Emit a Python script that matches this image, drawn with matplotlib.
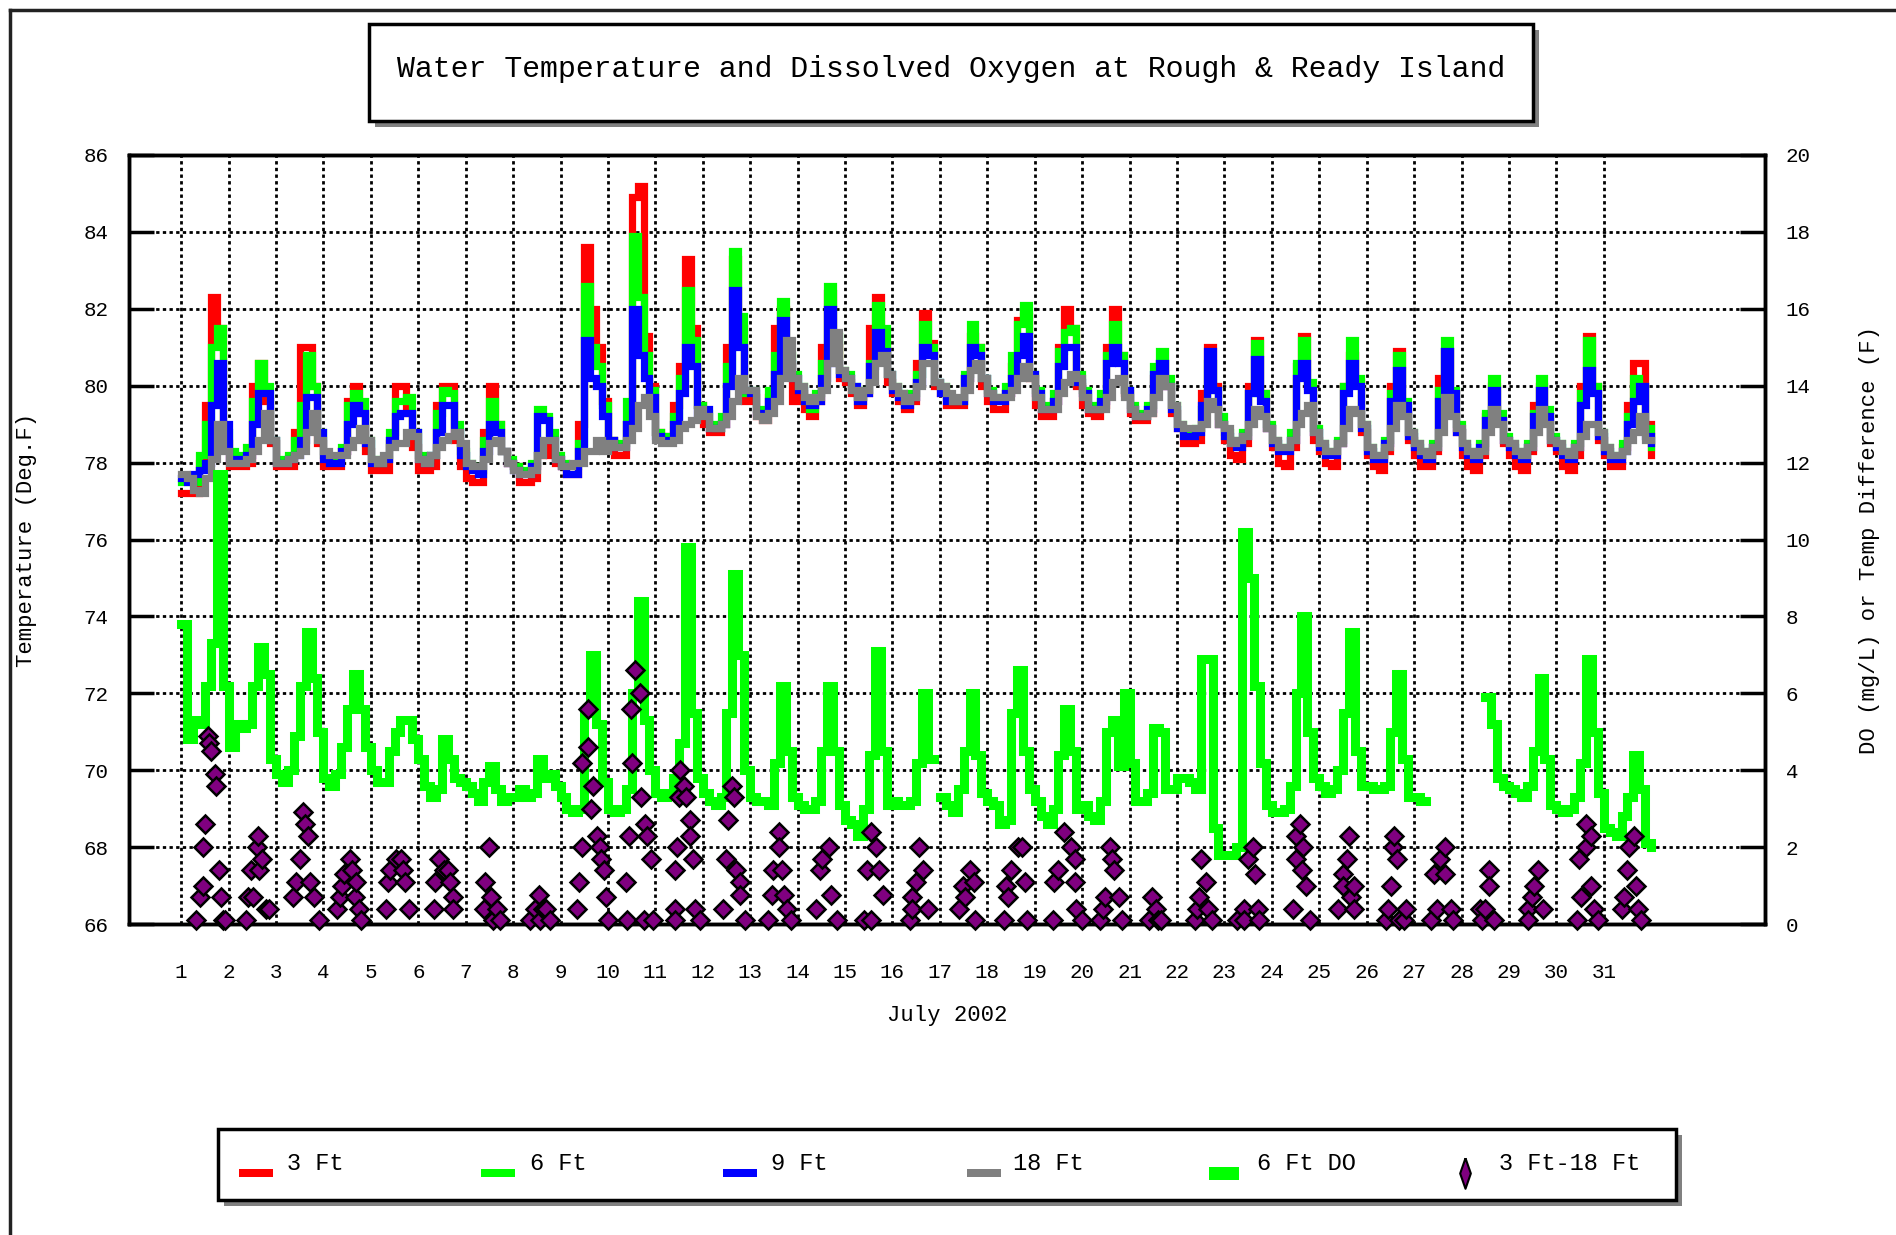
import numpy as np
import matplotlib
matplotlib.use("Agg")
import matplotlib.pyplot as plt
from matplotlib.patches import Rectangle
from matplotlib.lines import Line2D
from matplotlib.path import Path

plt.rcParams['font.family'] = ['Liberation Mono', 'DejaVu Sans Mono']

# Readings every 3 hours (8 per day) from July 1 to July 31, last value = Aug 1 00:00
temp_3ft = [
    77.2, 77.2, 77.2, 78.0, 79.5, 82.3, 81.5, 78.5,
    77.9, 77.9, 77.9, 78.0, 80.0, 80.6, 79.6, 78.5,
    77.9, 77.9, 77.9, 78.8, 81.0, 81.0, 80.0, 78.5,
    77.9, 77.9, 77.9, 78.3, 79.6, 80.0, 79.3, 78.3,
    77.8, 77.8, 77.8, 78.5, 80.0, 80.0, 79.3, 78.4,
    77.8, 77.8, 77.9, 79.5, 80.0, 80.0, 78.6, 77.9,
    77.6, 77.5, 77.5, 78.8, 80.0, 79.0, 78.3, 78.0,
    77.9, 77.5, 77.5, 77.6, 78.2, 78.5, 78.2, 78.0,
    77.9, 77.7, 77.7, 79.0, 83.6, 82.0, 81.0, 79.6,
    78.6, 78.2, 78.2, 79.0, 84.9, 85.2, 81.3, 80.0,
    78.8, 78.7, 78.7, 79.5, 80.5, 83.3, 81.5, 79.5,
    79.0, 78.8, 78.8, 79.0, 81.0, 83.3, 81.5, 79.6,
    79.7, 79.2, 79.1, 79.7, 81.5, 82.0, 80.5, 79.6,
    79.8, 79.4, 79.2, 79.6, 81.0, 82.4, 81.0, 80.2,
    80.1, 79.8, 79.5, 79.8, 81.5, 82.3, 81.0, 80.1,
    79.8, 79.6, 79.4, 79.6, 80.6, 81.9, 81.1, 80.0,
    79.8, 79.5, 79.5, 79.5, 80.2, 81.3, 81.0, 80.0,
    79.6, 79.4, 79.4, 79.8, 80.5, 81.7, 81.8, 80.2,
    79.5, 79.2, 79.2, 79.6, 81.0, 82.0, 81.5, 80.0,
    79.5, 79.3, 79.2, 79.5, 81.0, 82.0, 80.8, 79.8,
    79.3, 79.1, 79.1, 79.3, 80.2, 80.6, 80.0, 79.3,
    78.9, 78.5, 78.5, 78.6, 79.8, 81.0, 80.0, 79.0,
    78.6, 78.2, 78.1, 78.5, 80.0, 81.2, 79.8, 78.9,
    78.4, 78.0, 77.9, 78.4, 80.5, 81.3, 80.0, 78.6,
    78.3, 78.0, 77.9, 78.5, 80.0, 80.8, 80.1, 78.8,
    78.2, 77.9, 77.8, 78.3, 80.0, 80.9, 79.3, 78.6,
    78.2, 77.9, 77.9, 78.3, 80.2, 80.9, 79.8, 78.8,
    78.2, 77.9, 77.8, 78.2, 79.2, 80.0, 79.1, 78.5,
    78.2, 77.9, 77.8, 78.3, 79.5, 80.0, 79.2, 78.5,
    78.3, 77.9, 77.8, 78.2, 80.0, 81.3, 80.0, 78.6,
    78.2, 77.9, 77.9, 78.4, 79.5, 80.6, 80.6, 79.0,
    78.2,
]

temp_6ft = [
    77.5, 77.5, 77.5, 78.2, 79.0, 81.0, 81.5, 78.8,
    78.3, 78.2, 78.2, 78.4, 79.6, 80.6, 80.0, 78.6,
    78.1, 78.1, 78.2, 78.6, 79.5, 80.8, 80.0, 78.8,
    78.2, 78.1, 78.1, 78.4, 79.5, 79.8, 79.6, 78.6,
    78.1, 78.0, 78.1, 78.8, 79.6, 79.6, 79.7, 78.8,
    78.2, 78.1, 78.2, 79.3, 79.9, 79.8, 79.0, 78.3,
    78.0, 77.9, 77.8, 78.6, 79.6, 79.0, 78.3, 78.1,
    77.9, 77.8, 77.8, 78.0, 79.4, 79.2, 78.8, 78.2,
    78.0, 77.9, 77.9, 78.5, 82.6, 81.0, 80.5, 79.5,
    78.6, 78.5, 78.5, 79.6, 83.9, 82.3, 80.8, 79.9,
    78.8, 78.7, 78.7, 79.2, 80.2, 82.5, 81.2, 79.5,
    79.3, 79.0, 78.9, 79.2, 80.5, 83.5, 81.8, 79.8,
    79.9, 79.4, 79.4, 79.9, 80.8, 82.2, 80.8, 80.3,
    80.0, 79.6, 79.4, 79.8, 80.6, 82.6, 81.3, 80.4,
    80.3, 80.0, 79.7, 79.9, 80.6, 82.1, 81.5, 80.3,
    80.0, 79.8, 79.6, 79.8, 80.3, 81.6, 81.0, 80.1,
    80.0, 79.7, 79.6, 79.6, 80.3, 81.6, 81.0, 80.2,
    79.9, 79.7, 79.7, 80.0, 80.8, 81.6, 82.1, 80.3,
    79.9, 79.5, 79.5, 79.8, 80.9, 81.4, 81.5, 80.3,
    79.9, 79.5, 79.4, 79.8, 80.8, 81.6, 80.8, 79.9,
    79.5, 79.3, 79.2, 79.5, 80.5, 80.9, 80.2, 79.5,
    79.0, 78.8, 78.8, 78.9, 79.4, 80.6, 79.9, 79.2,
    78.8, 78.6, 78.5, 78.8, 79.8, 81.1, 79.8, 79.0,
    78.6, 78.4, 78.4, 78.8, 80.6, 81.2, 80.1, 78.9,
    78.5, 78.3, 78.3, 78.6, 80.0, 81.2, 80.2, 79.0,
    78.4, 78.2, 78.2, 78.6, 79.8, 80.8, 79.6, 78.8,
    78.5, 78.3, 78.2, 78.5, 79.9, 81.2, 79.9, 79.0,
    78.5, 78.3, 78.2, 78.5, 79.3, 80.2, 79.3, 78.7,
    78.5, 78.3, 78.2, 78.5, 79.3, 80.2, 79.4, 78.7,
    78.5, 78.3, 78.2, 78.5, 79.8, 81.2, 80.0, 78.8,
    78.4, 78.2, 78.2, 78.5, 79.2, 80.2, 80.0, 78.9,
    78.4,
]

temp_9ft = [
    77.6, 77.5, 77.7, 77.8, 78.0, 79.5, 80.6, 79.0,
    78.1, 78.1, 78.1, 78.2, 79.0, 79.8, 79.8, 78.6,
    78.0, 78.0, 78.1, 78.2, 78.6, 79.7, 79.7, 78.8,
    78.1, 78.0, 78.0, 78.3, 79.0, 79.5, 79.3, 78.5,
    78.0, 78.0, 78.1, 78.6, 79.2, 79.3, 79.3, 78.8,
    78.1, 78.0, 78.2, 78.8, 79.5, 79.5, 78.8, 78.2,
    77.9, 77.8, 77.7, 78.3, 79.0, 78.8, 78.3, 78.0,
    77.8, 77.7, 77.7, 77.9, 79.2, 79.1, 78.6, 78.1,
    77.9, 77.7, 77.7, 78.3, 81.2, 80.2, 80.0, 79.2,
    78.6, 78.4, 78.4, 79.0, 82.0, 80.8, 80.2, 79.7,
    78.7, 78.6, 78.6, 79.0, 79.8, 81.0, 80.5, 79.3,
    79.4, 78.9, 78.9, 79.0, 80.0, 82.5, 81.0, 79.9,
    79.8, 79.3, 79.3, 79.6, 80.3, 81.7, 80.6, 80.2,
    79.9, 79.6, 79.5, 79.6, 80.2, 82.0, 80.6, 80.3,
    80.2, 80.0, 79.6, 79.8, 80.5, 81.4, 80.9, 80.3,
    79.9, 79.7, 79.5, 79.7, 80.1, 81.0, 80.8, 80.1,
    79.8, 79.6, 79.6, 79.6, 80.2, 81.0, 80.8, 80.2,
    79.8, 79.6, 79.6, 79.8, 80.2, 80.8, 81.3, 80.3,
    79.8, 79.4, 79.4, 79.6, 80.5, 81.0, 81.0, 80.1,
    79.8, 79.4, 79.4, 79.6, 80.6, 81.0, 80.6, 79.9,
    79.4, 79.2, 79.2, 79.4, 80.3, 80.6, 80.0, 79.4,
    78.9, 78.7, 78.7, 78.8, 79.5, 80.9, 79.9, 79.0,
    78.7, 78.5, 78.4, 78.7, 79.8, 80.7, 79.6, 78.9,
    78.5, 78.3, 78.3, 78.6, 80.2, 80.6, 79.9, 78.8,
    78.4, 78.2, 78.2, 78.5, 79.8, 80.6, 80.0, 78.9,
    78.3, 78.1, 78.1, 78.5, 79.6, 80.4, 79.5, 78.7,
    78.4, 78.2, 78.1, 78.4, 79.6, 80.9, 79.8, 78.8,
    78.4, 78.2, 78.1, 78.4, 79.1, 79.9, 79.1, 78.6,
    78.4, 78.2, 78.1, 78.4, 79.2, 79.9, 79.2, 78.6,
    78.4, 78.2, 78.1, 78.4, 79.5, 80.4, 79.8, 78.7,
    78.3, 78.1, 78.1, 78.3, 79.0, 79.6, 80.0, 78.7,
    78.5,
]

temp_18ft = [
    77.7, 77.6, 77.3, 77.2, 77.6, 78.1, 79.0, 78.3,
    78.0, 78.0, 78.0, 78.1, 78.3, 78.6, 79.3, 78.6,
    78.0, 78.0, 78.1, 78.2, 78.3, 78.8, 79.3, 78.6,
    78.3, 78.2, 78.2, 78.2, 78.4, 78.6, 78.9, 78.6,
    78.1, 78.0, 78.2, 78.4, 78.5, 78.5, 78.8, 78.7,
    78.1, 78.0, 78.2, 78.4, 78.6, 78.7, 78.8, 78.5,
    78.0, 77.9, 77.9, 78.1, 78.5, 78.6, 78.3, 78.0,
    77.8, 77.7, 77.7, 77.8, 78.2, 78.6, 78.6, 78.1,
    77.9, 77.9, 78.0, 78.0, 78.3, 78.3, 78.6, 78.3,
    78.5, 78.4, 78.4, 78.6, 78.9, 79.5, 79.7, 79.2,
    78.6, 78.5, 78.5, 78.6, 78.9, 79.0, 79.1, 79.4,
    79.2, 78.9, 78.9, 79.0, 79.2, 79.6, 80.2, 79.9,
    79.9, 79.2, 79.1, 79.3, 79.6, 80.2, 81.2, 80.2,
    80.0, 79.7, 79.6, 79.7, 79.9, 80.6, 81.4, 80.4,
    80.2, 79.9, 79.7, 79.9, 80.1, 80.6, 80.8, 80.3,
    80.0, 79.8, 79.6, 79.7, 80.0, 80.6, 80.6, 80.1,
    80.0, 79.8, 79.6, 79.7, 79.9, 80.4, 80.6, 80.2,
    79.8, 79.7, 79.7, 79.7, 79.9, 80.2, 80.5, 80.2,
    79.7, 79.4, 79.4, 79.4, 79.8, 80.1, 80.3, 80.2,
    79.7, 79.4, 79.4, 79.4, 79.7, 80.1, 80.2, 79.7,
    79.4, 79.2, 79.2, 79.3, 79.7, 80.2, 80.0, 79.5,
    79.0, 78.9, 78.9, 78.9, 79.0, 79.6, 79.4, 79.0,
    78.9, 78.5, 78.6, 78.7, 79.0, 79.4, 79.2, 78.9,
    78.6, 78.4, 78.4, 78.6, 79.0, 79.3, 79.5, 78.8,
    78.5, 78.3, 78.3, 78.5, 78.9, 79.4, 79.3, 79.0,
    78.4, 78.2, 78.2, 78.4, 78.9, 79.5, 79.2, 78.8,
    78.5, 78.3, 78.2, 78.4, 78.8, 79.7, 79.2, 78.9,
    78.5, 78.3, 78.2, 78.3, 78.8, 79.4, 79.0, 78.6,
    78.5, 78.3, 78.2, 78.4, 78.8, 79.4, 79.0, 78.6,
    78.5, 78.3, 78.2, 78.4, 78.7, 79.0, 79.0, 78.8,
    78.4, 78.2, 78.2, 78.3, 78.6, 78.8, 79.2, 78.6,
    78.6,
]

nan = float('nan')
do_6ft = [
    7.8, 4.8, 5.3, 5.2, 6.2, 7.3, 11.7, 6.2,
    4.6, 5.2, 5.1, 5.2, 6.2, 7.2, 6.5, 4.3,
    3.9, 3.7, 4.0, 4.9, 6.2, 7.6, 6.4, 5.0,
    3.8, 3.6, 3.9, 4.6, 5.6, 6.5, 5.6, 4.6,
    4.0, 3.7, 3.7, 4.5, 5.0, 5.3, 5.3, 4.8,
    4.3, 3.6, 3.3, 3.5, 4.8, 4.3, 3.8, 3.7,
    3.6, 3.4, 3.2, 3.7, 4.1, 3.5, 3.2, 3.3,
    3.3, 3.5, 3.3, 3.4, 4.3, 3.8, 3.9, 3.6,
    3.3, 3.0, 2.9, 3.0, 5.5, 7.0, 5.2, 3.7,
    3.0, 2.9, 3.0, 3.5, 6.0, 8.4, 5.3, 4.0,
    3.4, 3.3, 3.4, 3.8, 4.7, 9.8, 5.5, 3.8,
    3.4, 3.2, 3.1, 3.3, 5.5, 9.1, 7.0, 4.0,
    3.3, 3.2, 3.2, 3.1, 4.2, 6.2, 4.5, 3.3,
    3.1, 3.0, 3.0, 3.2, 4.5, 6.2, 4.5, 3.1,
    2.7, 2.6, 2.3, 3.0, 4.4, 7.1, 4.5, 3.1,
    3.2, 3.1, 3.1, 3.2, 4.2, 6.0, 4.3, nan,
    3.3, 3.1, 2.9, 3.5, 4.5, 6.0, 4.4, 3.4,
    3.2, 3.1, 2.6, 2.7, 5.5, 6.6, 4.5, 3.5,
    3.2, 2.8, 2.6, 3.0, 4.4, 5.6, 4.5, 3.0,
    3.1, 2.8, 2.7, 3.2, 5.0, 5.3, 4.1, 6.0,
    4.2, 3.2, 3.2, 3.4, 5.1, 5.0, 3.5, 3.5,
    3.8, 3.8, 3.7, 3.5, 6.9, 6.9, 2.5, 1.8,
    1.8, 1.8, 2.0, 10.2, 9.0, 6.2, 4.2, 3.1,
    2.9, 2.9, 3.0, 3.6, 6.0, 8.0, 5.0, 3.8,
    3.6, 3.4, 3.5, 4.0, 5.5, 7.6, 4.5, 3.6,
    3.6, 3.5, 3.5, 3.6, 5.0, 6.5, 4.3, 3.3,
    3.3, 3.2, nan, nan, nan, nan, nan, nan,
    nan, nan, nan, nan, 5.9, 5.2, 3.8, 3.6,
    3.5, 3.4, 3.3, 3.6, 4.5, 6.4, 4.3, 3.1,
    3.0, 2.9, 3.0, 3.3, 4.2, 6.9, 5.0, 3.4,
    2.5, 2.4, 2.3, 2.8, 3.3, 4.4, 3.5, 2.1,
    2.0,
]

# 3 Ft - 18 Ft temperature difference (only the points shown on the chart)
diff_day = [
    1.32, 1.39, 1.45, 1.47, 1.50, 1.57, 1.59, 1.63, 1.72, 1.74, 1.80, 1.85, 1.88, 1.92,
    2.36, 2.40, 2.48, 2.52, 2.59, 2.63, 2.65, 2.71, 2.78, 2.86,
    3.35, 3.43, 3.50, 3.57, 3.61, 3.67, 3.72, 3.80, 3.91,
    4.28, 4.35, 4.39, 4.43, 4.55, 4.61, 4.66, 4.68, 4.75, 4.79,
    5.33, 5.37, 5.40, 5.52, 5.64, 5.68, 5.72, 5.80,
    6.33, 6.36, 6.44, 6.55, 6.62, 6.66, 6.73, 6.74,
    7.38, 7.41, 7.49, 7.53, 7.57, 7.65, 7.73,
    8.36, 8.47, 8.55, 8.56, 8.62, 8.69, 8.77,
    9.34, 9.38, 9.45, 9.46, 9.57, 9.58, 9.65, 9.69, 9.77, 9.84, 9.86, 9.92, 9.96, 10.00,
    10.38, 10.40, 10.45, 10.49, 10.50, 10.56, 10.68, 10.70, 10.75, 10.79, 10.82, 10.90, 10.94,
    11.42, 11.42, 11.42, 11.45, 11.49, 11.53, 11.61, 11.64, 11.72, 11.72, 11.80, 11.83, 11.95,
    12.42, 12.50, 12.54, 12.62, 12.66, 12.70, 12.78, 12.78, 12.90,
    13.38, 13.46, 13.49, 13.60, 13.60, 13.67, 13.71, 13.78, 13.86,
    14.39, 14.47, 14.51, 14.66, 14.70, 14.82,
    15.39, 15.46, 15.54, 15.54, 15.65, 15.72, 15.80,
    16.38, 16.42, 16.42, 16.49, 16.57, 16.64, 16.75,
    17.40, 17.48, 17.52, 17.63, 17.71, 17.75,
    18.36, 18.40, 18.43, 18.51, 18.65, 18.73, 18.80, 18.84,
    19.38, 19.41, 19.49, 19.61, 19.77, 19.84, 19.84, 19.88, 19.99,
    20.37, 20.44, 20.48, 20.59, 20.63, 20.67, 20.78, 20.85,
    21.41, 21.48, 21.56, 21.60, 21.67,
    22.38, 22.42, 22.46, 22.50, 22.62, 22.65, 22.73,
    23.27, 23.42, 23.42, 23.49, 23.60, 23.64, 23.71, 23.74,
    24.44, 24.52, 24.52, 24.60, 24.64, 24.66, 24.72, 24.80,
    25.40, 25.51, 25.51, 25.58, 25.62, 25.66, 25.73, 25.73,
    26.41, 26.45, 26.52, 26.56, 26.58, 26.64, 26.68, 26.79, 26.83,
    27.36, 27.43, 27.48, 27.54, 27.66, 27.66, 27.77, 27.81,
    28.39, 28.43, 28.50, 28.58, 28.58, 28.69,
    29.41, 29.41, 29.49, 29.53, 29.61, 29.72,
    30.44, 30.47, 30.51, 30.62, 30.62, 30.73, 30.73, 30.80, 30.88,
    31.39, 31.42, 31.50, 31.53, 31.64, 31.68, 31.72, 31.79,
]
diff_val = [
    0.1, 0.7, 2.0, 1.0, 2.6, 4.9, 4.7, 4.5, 3.9, 3.6, 1.4, 0.7, 0.1, 0.1,
    0.1, 0.7, 1.4, 0.7, 2.0, 2.3, 1.4, 1.7, 0.4, 0.4,
    0.7, 1.1, 1.7, 2.9, 2.6, 2.3, 1.1, 0.7, 0.1,
    0.4, 0.7, 1.0, 1.3, 1.7, 1.4, 0.7, 1.1, 0.4, 0.1,
    0.4, 1.1, 1.4, 1.7, 1.7, 1.4, 1.1, 0.4,
    0.4, 1.1, 1.7, 1.4, 1.4, 1.1, 0.7, 0.4,
    0.4, 1.1, 2.0, 0.7, 0.1, 0.4, 0.1,
    0.1, 0.4, 0.75, 0.1, 0.4, 0.4, 0.1,
    0.4, 1.1, 4.2, 2.0, 5.6, 4.6, 3.0, 3.6, 2.3, 2.0, 1.7, 1.4, 0.7, 0.1,
    1.1, 0.1, 2.3, 5.6, 4.2, 6.6, 6.0, 3.3, 0.1, 2.6, 2.3, 1.7, 0.1,
    1.4, 0.4, 0.1, 2.0, 3.3, 4.0, 3.6, 3.3, 2.7, 2.3, 1.7, 0.4, 0.1,
    0.4, 1.7, 2.7, 3.6, 3.3, 1.4, 1.1, 0.75, 0.1,
    0.1, 0.75, 1.4, 2.4, 2.0, 1.4, 0.75, 0.4, 0.1,
    0.4, 1.4, 1.7, 2.0, 0.75, 0.1,
    0.1, 1.4, 2.4, 0.1, 2.0, 1.4, 0.75,
    0.1, 0.7, 0.4, 1.1, 2.0, 1.4, 0.4,
    0.4, 1.0, 0.7, 1.4, 1.1, 0.1,
    0.1, 1.0, 0.7, 1.4, 2.0, 2.0, 1.1, 0.1,
    0.1, 1.1, 1.4, 2.4, 2.0, 1.7, 1.1, 0.4, 0.1,
    0.1, 0.4, 0.7, 2.0, 1.7, 1.4, 0.7, 0.1,
    0.1, 0.7, 0.4, 0.1, 0.1,
    0.1, 0.4, 0.7, 1.7, 1.1, 0.4, 0.1,
    0.1, 0.4, 0.1, 1.7, 2.0, 1.3, 0.4, 0.1,
    0.4, 2.3, 1.7, 2.6, 1.4, 2.0, 1.0, 0.1,
    0.4, 1.3, 1.0, 1.7, 2.3, 0.7, 1.0, 0.4,
    0.1, 0.4, 1.0, 2.0, 2.3, 1.7, 0.1, 0.1, 0.4,
    0.1, 1.3, 0.4, 1.7, 2.0, 1.3, 0.4, 0.1,
    0.4, 0.1, 0.4, 1.4, 1.0, 0.1,
    0.4, 0.1, 0.7, 1.0, 1.4, 0.4,
    0.1, 1.7, 0.7, 2.6, 2.0, 2.3, 1.0, 0.4, 0.1,
    0.4, 0.7, 1.4, 2.0, 2.3, 1.0, 0.4, 0.1,
]

day_labels = [str(d) for d in range(1, 32)]
series_names = ['3 Ft', '6 Ft', '9 Ft', '18 Ft', '6 Ft DO', '3 Ft-18 Ft']
series_colors = ['#ff0000', '#00ff00', '#0000ff', '#808080', '#00ff00', '#800080']

W, H = 1896, 1235
fig = plt.figure(figsize=(W / 100, H / 100), dpi=100)

# time axis: 8 readings per day starting July 1
t = 1 + np.arange(len(temp_3ft)) / 8.0

ax = fig.add_axes([129 / W, 1 - 924 / H, (1765 - 129) / W, (924 - 155) / H])
ax2 = ax.twinx()

for vals, col in zip([temp_3ft, temp_6ft, temp_9ft, temp_18ft], series_colors[:4]):
    ax.plot(t, vals, drawstyle='steps-post', color=col, lw=5.2, solid_joinstyle='miter')

ax2.plot(t, do_6ft, drawstyle='steps-post', color=series_colors[4], lw=6.5, solid_joinstyle='miter')
ax2.plot(diff_day, diff_val, ls='none', marker='D', ms=9, mfc=series_colors[5],
         mec='black', mew=1.8, clip_on=False, zorder=5)

ax.set_xlim(-0.1, 34.4)
ax.set_ylim(66, 86)
ax2.set_ylim(0, 20)
ax.set_xticks(range(1, 32))
ax.set_xticklabels(day_labels)
ax.set_yticks(range(66, 87, 2))
ax2.set_yticks(range(0, 21, 2))

ax.set_axisbelow(True)
ax.grid(True, color='black', ls=(0, (1.2, 1.2)), lw=2)

ax.tick_params(axis='y', direction='in', length=18, width=2.5, pad=15, labelsize=15)
ax2.tick_params(axis='y', direction='in', length=18, width=2.5, pad=15, labelsize=15)
ax.tick_params(axis='x', length=0, pad=28, labelsize=15)
for a in (ax, ax2):
    for s in a.spines.values():
        s.set_linewidth(2.5)

cy = 1 - (155 + 924) / 2 / H
fig.text(27 / W, cy, 'Temperature (Deg.F)', rotation=90, ha='center', va='center', fontsize=16)
fig.text(1870 / W, cy, 'DO (mg/L) or Temp Difference (F)', rotation=90, ha='center', va='center', fontsize=16)
fig.text(0.4995, 1 - 1016 / H, 'July 2002', ha='center', va='center', fontsize=16)

# outer frame (left and top edge)
fig.add_artist(Line2D([10 / W, 10 / W], [0, 1 - 10 / H], transform=fig.transFigure, color='#222222', lw=2.5))
fig.add_artist(Line2D([10 / W, 1], [1 - 10 / H, 1 - 10 / H], transform=fig.transFigure, color='#222222', lw=2.5))


def shadow_box(x0, y0, x1, y1):
    # box given in pixel coords from top-left
    sx, sy = 6 / W, 6 / H
    fx0, fx1 = x0 / W, x1 / W
    fy0, fy1 = 1 - y1 / H, 1 - y0 / H
    fig.add_artist(Rectangle((fx0 + sx, fy0 - sy), fx1 - fx0, fy1 - fy0, transform=fig.transFigure,
                             facecolor='#808080', edgecolor='none'))
    fig.add_artist(Rectangle((fx0, fy0), fx1 - fx0, fy1 - fy0, transform=fig.transFigure,
                             facecolor='white', edgecolor='black', lw=2.5))


shadow_box(369, 24, 1533, 121)
fig.text(0.5016, 1 - 69 / H, 'Water Temperature and Dissolved Oxygen at Rough & Ready Island',
         ha='center', va='center', fontsize=21.5)

shadow_box(218, 1129, 1676, 1200)
swatch_x = [239, 481, 723, 967, 1209]
text_x = [287, 530, 771, 1013, 1257, 1499]
sw_y = 1 - 1173 / H
for i in range(5):
    hgt = 13 if i == 4 else 8
    wid = 30 if i == 4 else 34
    fig.add_artist(Rectangle((swatch_x[i] / W, sw_y - hgt / 2 / H), wid / W, hgt / H,
                             transform=fig.transFigure, facecolor=series_colors[i], edgecolor='none'))
thin_diamond = Path([(0, 1), (0.35, 0), (0, -1), (-0.35, 0), (0, 1)])
fig.add_artist(Line2D([1465 / W], [sw_y], transform=fig.transFigure, marker=thin_diamond, ms=22,
                      mfc=series_colors[5], mec='black', mew=1.5, ls='none'))
for i, name in enumerate(series_names):
    fig.text(text_x[i] / W, 1 - 1164 / H, name, ha='left', va='center', fontsize=17)

fig.savefig('out.png', dpi=100)
